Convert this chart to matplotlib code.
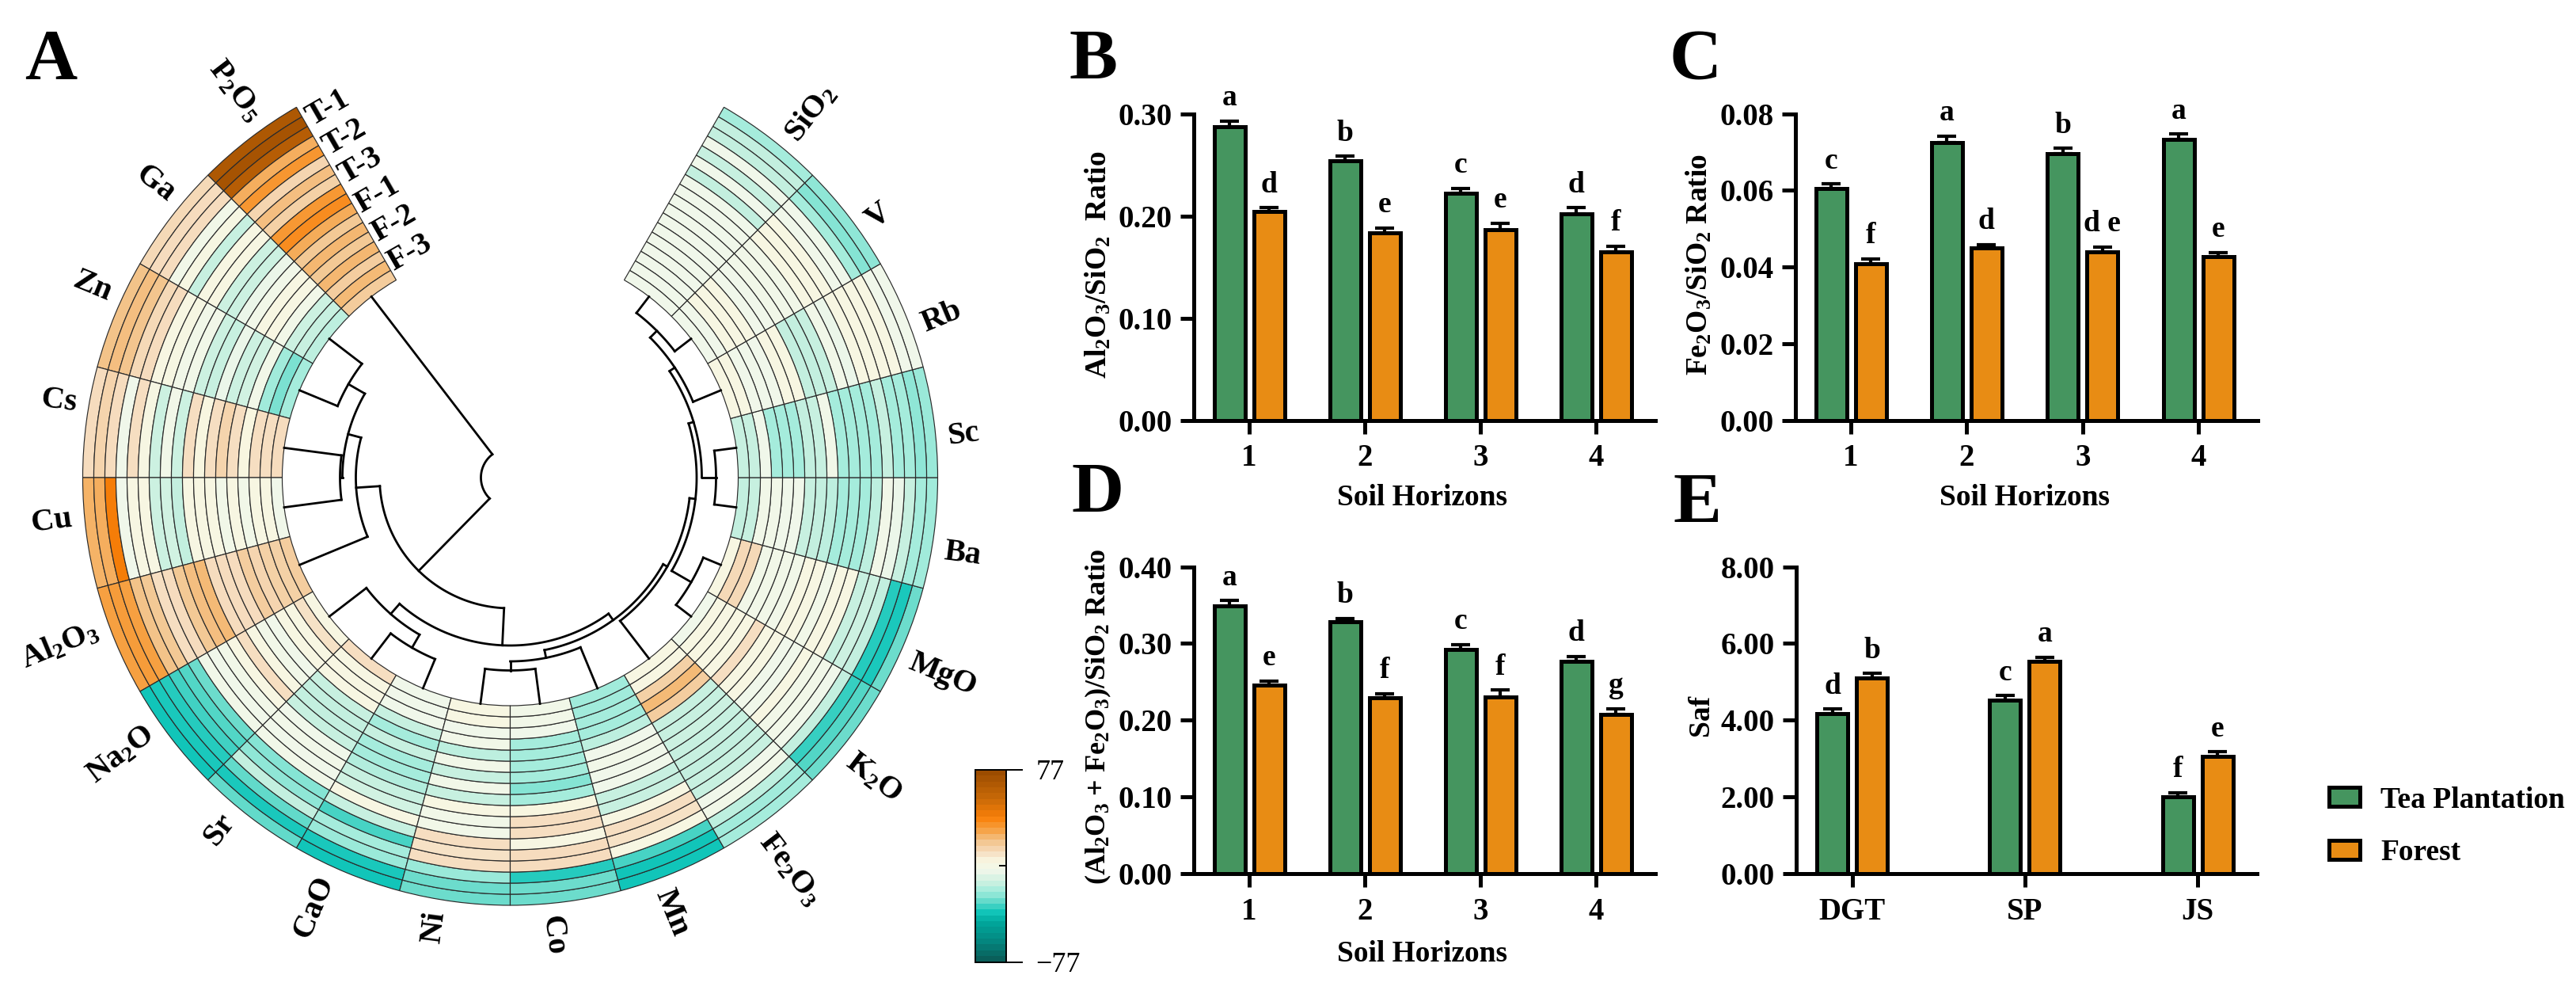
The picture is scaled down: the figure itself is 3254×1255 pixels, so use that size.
import numpy as np
import matplotlib
matplotlib.use("Agg")
import matplotlib.pyplot as plt
import matplotlib.transforms as mtransforms
from matplotlib.cm import ScalarMappable
from matplotlib.colors import LinearSegmentedColormap, Normalize
from matplotlib.patches import Patch

plt.rcParams["font.family"] = ["Liberation Serif", "DejaVu Serif"]
plt.rcParams["font.weight"] = "bold"
plt.rcParams["axes.labelweight"] = "bold"
plt.rcParams["mathtext.default"] = "regular"

# === HEATMAP DATA (sectors counter-clockwise from P2O5, rings outer to inner) ===
elements = ["P$_2$O$_5$", "Ga", "Zn", "Cs", "Cu", "Al$_2$O$_3$", "Na$_2$O", "Sr", "CaO", "Ni",
            "Co", "Mn", "Fe$_2$O$_3$", "K$_2$O", "MgO", "Ba", "Sc", "Rb", "V", "SiO$_2$"]
ring_labels = ["T-1", "T-2", "T-3", "F-1", "F-2", "F-3"]

p2o5 = [68, 72, 64, 26, 33, 14, 22, 16, 32, 36, 27, 19, 24, 19, 24, 17, 23, 18]
ga = [13, 12, 12, -3, 2, -14, 3, 3, -13, -13, -5, -3, 3, 3, -3, -13, -14, -16]
zn = [21, 22, 20, 13, 12, 3, 2, -3, -3, -13, -14, -5, -13, -12, -3, -21, -26, -20]
cs = [12, 15, 12, -4, 11, 2, -13, -3, -13, 11, 4, 11, 15, 11, 4, 11, 11, 12]
cu = [25, 26, 41, -4, 3, 3, -13, -12, -15, 3, 3, 3, -3, 3, -3, 3, 3, -4]
al2o3 = [30, 31, 30, 21, 19, 11, 12, 19, 22, 23, 12, 12, 12, 17, 14, 16, 16, 17]
na2o = [-38, -37, -36, -33, -31, -28, -3, -4, -3, 3, 11, 3, -3, -4, 3, 3, 10, 3]
sr = [-29, -37, -29, -15, -24, -25, -3, -4, -3, -4, -14, -15, -15, -14, 3, 3, 3, 11]
cao = [-38, -37, -22, -20, -32, -14, 3, -12, -14, -18, -20, -20, -14, -20, -14, -4, -4, -4]
ni = [-28, -28, -22, 11, 10, 11, -3, -3, 3, -14, -3, -14, -3, -16, -3, -4, 3, 3]
co = [-28, -28, -36, 12, 12, 3, 11, 11, 4, -20, -25, -20, -20, -20, -20, -4, -3, -3]
mn = [-38, -38, -32, 3, 10, 11, 3, -14, -14, -4, -4, -3, -4, -16, -20, -20, -21, -21]
fe2o3 = [-20, -21, -16, -3, -4, -14, -14, -15, -14, -14, -13, -14, -14, 17, 23, 16, 3, 3]
k2o = [-28, -31, -34, -15, -4, -3, -3, 3, -4, -4, 3, 3, 11, 3, 3, 3, 3, -4]
mgo = [-28, -37, -36, -15, -13, -14, 3, 3, -3, 3, 3, -3, -3, -3, -3, 13, 13, 3]
ba = [-21, -20, -14, -5, -3, -16, -20, -20, -20, -16, -15, -14, -4, -4, -3, -3, -14, -15]
sc = [-22, -24, -20, -20, -14, -20, -20, -20, -20, -3, -14, -15, -20, -20, -20, -4, -14, -14]
rb = [-4, -4, 3, 3, 3, 3, -5, -3, -14, -15, -15, 3, 3, -4, -4, -4, 3, 3]
v = [-24, -25, -20, -4, -4, 3, 3, 3, -3, -3, -3, -4, -4, 3, 3, 3, -4, -4]
sio2 = [-20, -15, -15, -4, -14, -4, -15, -4, -4, -4, -4, -4, -4, -4, -4, -4, -4, -4]
cell_values = [p2o5, ga, zn, cs, cu, al2o3, na2o, sr, cao, ni, co, mn, fe2o3, k2o, mgo, ba, sc, rb, v, sio2]

# cluster tree: (merge radius, child, child); a leaf is an index into elements
tree_nimn = (232, (243.5, 9, 10), 11)
tree_kmg = (264, 13, 14)
tree_vsi = (262, 18, 19)
tree_basc = (260, 15, 16)
tree_right = (222, tree_nimn, (228, 12, (235.5, tree_kmg, (242, tree_basc, (250, 17, tree_vsi)))))
tree_nasr = (229, 6, (248, 7, 8))
tree_left = (195, (212, (236, 1, 2), (215, 3, 4)), 5)
cluster_tree = (37, 0, (165, tree_left, (212, tree_nasr, tree_right)))

# === BAR DATA ===
horizons = ["1", "2", "3", "4"]
sites = ["DGT", "SP", "JS"]

b_tea = [0.2877, 0.2543, 0.2220, 0.2023]
b_forest = [0.2043, 0.1835, 0.1863, 0.1652]
b_tea_err = [0.0050, 0.0040, 0.0050, 0.0056]
b_forest_err = [0.0036, 0.0045, 0.0067, 0.0050]
b_tea_sig = ["a", "b", "c", "d"]
b_forest_sig = ["d", "e", "e", "f"]

c_tea = [0.0605, 0.0725, 0.0695, 0.0733]
c_forest = [0.0408, 0.0449, 0.0440, 0.0427]
c_tea_err = [0.0012, 0.0017, 0.0015, 0.0014]
c_forest_err = [0.0014, 0.0009, 0.0013, 0.0011]
c_tea_sig = ["c", "a", "b", "a"]
c_forest_sig = ["f", "d", "d e", "e"]

d_tea = [0.3490, 0.3285, 0.2921, 0.2765]
d_forest = [0.2459, 0.2294, 0.2307, 0.2080]
d_tea_err = [0.0070, 0.0044, 0.0066, 0.0064]
d_forest_err = [0.0052, 0.0053, 0.0084, 0.0068]
d_tea_sig = ["a", "b", "c", "d"]
d_forest_sig = ["e", "f", "f", "g"]

e_tea = [4.17, 4.53, 2.00]
e_forest = [5.105, 5.526, 3.05]
e_tea_err = [0.117, 0.108, 0.108]
e_forest_err = [0.115, 0.120, 0.124]
e_tea_sig = ["d", "c", "f"]
e_forest_sig = ["b", "a", "e"]

# === STYLE ===
W, H = 3254, 1255
GREEN = "#45955f"
ORANGE = "#e88c14"
heat_nodes = [
    (0.0, "#0a5f5a"), ((77 - 63) / 154, "#04857e"), ((77 - 46) / 154, "#00a99d"),
    ((77 - 38) / 154, "#12c6ba"), ((77 - 30) / 154, "#5cd8c8"), ((77 - 24) / 154, "#8ee6d6"),
    ((77 - 20) / 154, "#a6ecdc"), ((77 - 14) / 154, "#c8f0e0"), ((77 - 4) / 154, "#f0f7ea"),
    ((77 + 4) / 154, "#f8f6e0"), ((77 + 11) / 154, "#f6dec2"), ((77 + 20) / 154, "#f3c690"),
    ((77 + 30) / 154, "#f6a040"), ((77 + 40) / 154, "#f97f08"), ((77 + 55) / 154, "#c96a08"),
    (1.0, "#9c4c00")]
heat_cmap = LinearSegmentedColormap.from_list("heat", heat_nodes, N=256)
band_cmap = LinearSegmentedColormap.from_list("heat_bands", heat_nodes, N=33)
heat_norm = Normalize(-77, 77)

fig = plt.figure(figsize=(W / 100, H / 100), dpi=100)
px = mtransforms.Affine2D().scale(1 / W, -1 / H).translate(0, 1) + fig.transFigure


def px_axes(left, top, right, bottom, **kw):
    return fig.add_axes([left / W, 1 - bottom / H, (right - left) / W, (bottom - top) / H], **kw)


# === PANEL A: CIRCULAR HEATMAP ===
CX, CY, R_OUT, R_IN = 644.5, 603, 540, 288
ring_w = (R_OUT - R_IN) / 18
sector_w = 15.0

ax_a = px_axes(CX - R_OUT, CY - R_OUT, CX + R_OUT, CY + R_OUT, polar=True)
ax_a.set_rlim(0, R_OUT)
ax_a.set_axis_off()


def sector_theta(i):
    return 127.5 + sector_w * i


for i, rings in enumerate(cell_values):
    for k, val in enumerate(rings):
        ax_a.bar(np.radians(sector_theta(i)), ring_w, width=np.radians(sector_w),
                 bottom=R_OUT - (k + 1) * ring_w, color=heat_cmap(heat_norm(val)),
                 edgecolor="#2b2b2b", linewidth=0.85, clip_on=False)

# labels sit a little clockwise of the sector centre in the original
for i, name in enumerate(elements):
    deg = sector_theta(i) % 360
    left_side = 90 < deg < 270
    rot = deg - 180 if left_side else (deg - 360 if deg > 270 else deg)
    ax_a.text(np.radians(deg - 2.2), R_OUT + 16, name, fontsize=29, rotation=rot, rotation_mode="anchor",
              ha="right" if left_side else "left", va="center", clip_on=False)

for j, name in enumerate(ring_labels):
    ax_a.text(np.radians(119.4), R_OUT - (3 * j + 1.5) * ring_w, name, fontsize=29, rotation=30,
              rotation_mode="anchor", ha="left", va="center", clip_on=False)


def draw_tree(node):
    # returns (angle, radius) of the node and draws its elbow
    if isinstance(node, int):
        return sector_theta(node), R_IN
    r, first, second = node
    t1, r1 = draw_tree(first)
    t2, r2 = draw_tree(second)
    arc = np.radians(np.linspace(t1, t2, 60))
    ax_a.plot(arc, np.full(60, r), color="black", lw=2.0, clip_on=False)
    ax_a.plot(np.radians([t1, t1]), [r, r1], color="black", lw=2.0, clip_on=False)
    ax_a.plot(np.radians([t2, t2]), [r, r2], color="black", lw=2.0, clip_on=False)
    return (t1 + t2) / 2, r


draw_tree(cluster_tree)

# colour bar
cax = px_axes(1232, 972, 1271, 1214.5)
cbar = fig.colorbar(ScalarMappable(norm=heat_norm, cmap=band_cmap), cax=cax, ticks=[-77, 77])
cbar.set_ticks([0], minor=True)
cbar.ax.set_yticklabels(["\u221277", "77"], fontsize=26, fontweight="normal")
cbar.ax.tick_params(which="major", direction="out", length=15, width=1.4, pad=12)
cbar.ax.tick_params(which="minor", direction="in", length=6.5, width=1.4, left=False, right=True)
cbar.outline.set_linewidth(1.4)


# === BAR PANELS ===
def bar_panel(rect, tea, forest, tea_err, forest_err, tea_sig, forest_sig, ticklabels, ymax,
              yticks, yfmt, ylabel, ylabel_xy, xlabel=None, xlabel_xy=None, ylabel_size=27):
    left, top, right, bottom, tick0, step = rect
    ax = px_axes(left, top, right, bottom)
    x = np.arange(len(tea))
    offset = 25 / step
    width = 39 / step
    ax.bar(x - offset, tea, width, color=GREEN, edgecolor="black", linewidth=3.6, zorder=2)
    ax.bar(x + offset, forest, width, color=ORANGE, edgecolor="black", linewidth=3.6, zorder=2)
    for xs, vals, errs, sigs in [(x - offset, tea, tea_err, tea_sig), (x + offset, forest, forest_err, forest_sig)]:
        ax.errorbar(xs, vals, yerr=[np.zeros(len(vals)), errs], fmt="none", ecolor="black",
                    elinewidth=3.0, capsize=8.5, capthick=3.0, zorder=1)
        for xi, val, err, sig in zip(xs, vals, errs, sigs):
            ax.annotate(sig, (xi, val + err), xytext=(0, 21), textcoords="offset points",
                        ha="center", va="center", fontsize=27)
    ax.set_xlim((left - tick0) / step, (right - tick0) / step)
    ax.set_ylim(0, ymax)
    ax.set_xticks(x)
    ax.set_xticklabels(ticklabels)
    ax.set_yticks(yticks)
    ax.set_yticklabels([yfmt % t for t in yticks])
    ax.tick_params(axis="both", length=12.5, width=3.6, labelsize=28, pad=7)
    ax.tick_params(axis="x", pad=9)
    for side in ["top", "right"]:
        ax.spines[side].set_visible(False)
    for side in ["left", "bottom"]:
        ax.spines[side].set_linewidth(3.6)
    ax.set_ylabel(ylabel, fontsize=ylabel_size, va="center", ha="center")
    ax.yaxis.set_label_coords(*ylabel_xy, transform=px)
    if xlabel:
        ax.set_xlabel(xlabel, fontsize=27, va="center", ha="center")
        ax.xaxis.set_label_coords(*xlabel_xy, transform=px)
    return ax


bar_panel((1508, 143.7, 2091, 530.6, 1578, 146), b_tea, b_forest, b_tea_err, b_forest_err, b_tea_sig, b_forest_sig,
          horizons, 0.30, [0, 0.10, 0.20, 0.30], "%.2f", "Al$_2$O$_3$/SiO$_2$  Ratio", (1387, 334),
          "Soil Horizons", (1797, 629))
bar_panel((2268, 143.7, 2852, 530.6, 2338, 146.4), c_tea, c_forest, c_tea_err, c_forest_err, c_tea_sig, c_forest_sig,
          horizons, 0.08, [0, 0.02, 0.04, 0.06, 0.08], "%.2f", "Fe$_2$O$_3$/SiO$_2$ Ratio", (2146, 334),
          "Soil Horizons", (2558, 629))
bar_panel((1508, 715.6, 2091, 1103, 1578, 146), d_tea, d_forest, d_tea_err, d_forest_err, d_tea_sig, d_forest_sig,
          horizons, 0.40, [0, 0.10, 0.20, 0.30, 0.40], "%.2f", "(Al$_2$O$_3$ + Fe$_2$O$_3$)/SiO$_2$ Ratio", (1387, 905),
          "Soil Horizons", (1797, 1204), ylabel_size=26)
bar_panel((2269, 715.6, 2851, 1103, 2339.6, 218.3), e_tea, e_forest, e_tea_err, e_forest_err, e_tea_sig, e_forest_sig,
          sites, 8.0, [0, 2.0, 4.0, 6.0, 8.0], "%.2f", "Saf", (2149, 903))

# === LEGEND AND PANEL LETTERS ===
handles = [Patch(facecolor=GREEN, edgecolor="black", linewidth=3.6),
           Patch(facecolor=ORANGE, edgecolor="black", linewidth=3.6)]
fig.legend(handles, ["Tea Plantation", "Forest"], loc="center left", bbox_to_anchor=(2908 / W, 1 - 1043.5 / H),
           frameon=False, fontsize=27, handlelength=1.05, handleheight=0.6, handletextpad=0.7, labelspacing=0.85)

for letter, lx, ly in [("A", 31, 100), ("B", 1351, 100), ("C", 2109, 100), ("D", 1353, 647), ("E", 2113, 660)]:
    fig.text(lx, ly, letter, transform=px, fontsize=66, ha="left", va="baseline")

# === SAVE OUTPUT ===
fig.savefig("out.png", dpi=100, facecolor="white")
